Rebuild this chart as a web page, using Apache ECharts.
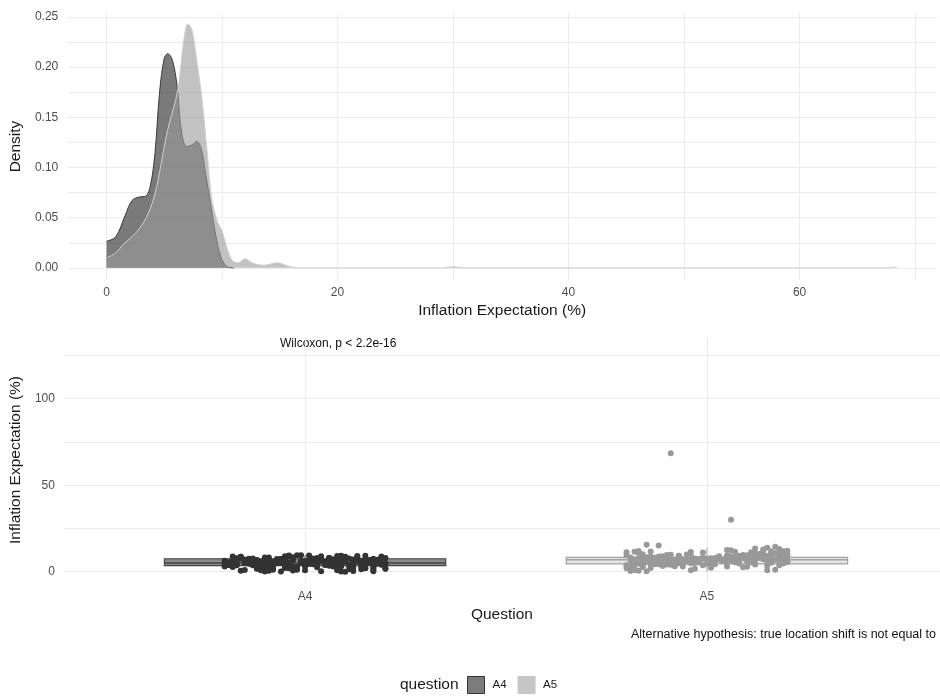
<!DOCTYPE html>
<html>
<head>
    <meta charset="utf-8" />
    <title>Inflation Expectation</title>
    <style>
        html, body { margin: 0; padding: 0; background: #fff; }
        #chart { width: 940px; height: 698px; }
    </style>
</head>
<body>
    <div id="chart"></div>
    <script src="https://cdn.jsdelivr.net/npm/echarts@6/dist/echarts.min.js"></script>
    <script type="text/javascript">
        // density curves
        var a4DensX = [0, 0.8, 1.6, 2.2, 2.8, 3.4, 3.8, 4.2, 4.6, 5.0, 5.3, 5.7, 6.1, 6.5, 6.95, 7.4, 7.8, 8.2, 8.6, 9.0, 9.4, 9.9, 10.4, 11.0];
        var a4DensY = [0.0265, 0.031, 0.052, 0.067, 0.0705, 0.0715, 0.082, 0.115, 0.176, 0.209, 0.2135, 0.207, 0.182, 0.135, 0.121, 0.1225, 0.126, 0.119, 0.092, 0.065, 0.036, 0.011, 0.0015, 0];
        var a5DensX = [0, 0.8, 1.5, 2.2, 2.9, 3.6, 4.2, 4.7, 5.1, 5.5, 6.0, 6.3, 6.7, 7.05, 7.4, 7.8, 8.3, 8.7, 9.1, 9.6, 10.0, 10.4, 10.9, 11.4, 12.0, 12.6, 13.6, 14.8, 15.8, 16.6, 29, 30, 31, 67.5, 68.5];
        var a5DensY = [0.0099, 0.015, 0.024, 0.031, 0.04, 0.054, 0.074, 0.102, 0.127, 0.147, 0.168, 0.188, 0.228, 0.243, 0.237, 0.208, 0.165, 0.117, 0.07, 0.046, 0.037, 0.021, 0.007, 0.005, 0.009, 0.005, 0.0026, 0.005, 0.0015, 0, 0, 0.0012, 0, 0, 0.0012];

        // tick labels
        var densXTicks = [0, 20, 40, 60];
        var densXGrid = [0, 10, 20, 30, 40, 50, 60, 70];
        var densYTicks = [0, 0.05, 0.10, 0.15, 0.20, 0.25];
        var densYGrid = [0, 0.025, 0.05, 0.075, 0.10, 0.125, 0.15, 0.175, 0.20, 0.225, 0.25];
        var questions = ['A4', 'A5'];
        var boxYTicks = [0, 50, 100];
        var boxYGrid = [0, 25, 50, 75, 100, 125];

        // box stats: position, lower whisker, Q1, median, Q3, upper whisker
        var boxStats = [
            [1, 0, 3.5, 5, 7.5, 9.5],
            [2, 0, 4.6, 7, 8.3, 13.8]
        ];

        // jittered points (horizontal offset, value)
        var a4Jitter = [-0.19, 0.07, -0.12, 0.15, 0.02, -0.05, 0.18, -0.16, 0.11, -0.01, 0.04, -0.09, 0.13, -0.18, 0.09, 0.0, -0.14, 0.17, -0.07, 0.06,
            0.12, -0.03, -0.2, 0.19, -0.11, 0.08, 0.03, -0.15, 0.14, -0.06, 0.2, -0.08, 0.01, -0.17, 0.1, -0.02, 0.16, -0.13, 0.05, -0.1,
            -0.04, 0.18, -0.19, 0.09, 0.13, -0.12, 0.0, 0.07, -0.16, 0.15, -0.07, 0.03, -0.14, 0.11, 0.19, -0.05, 0.06, -0.18, 0.02, -0.09,
            0.17, -0.01, -0.11, 0.12, 0.04, -0.2, 0.1, -0.06, 0.14, -0.15, 0.08, -0.03, 0.2, -0.13, 0.01, -0.08, 0.16, -0.17, 0.05, -0.1,
            0.13, -0.04, 0.09, -0.19, 0.18, -0.12, 0.03, -0.07, 0.15, -0.16, 0.07, -0.02, 0.11, -0.14, 0.0, 0.19, -0.09, 0.06, -0.18, 0.12,
            -0.05, 0.16, -0.11, 0.02, 0.1, -0.2, 0.14, -0.06, 0.04, -0.15, 0.17, -0.01, 0.08, -0.13, 0.2, -0.08, 0.05, -0.17, 0.13, -0.03,
            0.01, -0.13, 0.17, -0.06, 0.09, -0.19, 0.14, -0.02, 0.05, -0.16, 0.2, -0.09, 0.12, -0.04, 0.07, -0.18, 0.15, -0.11, 0.03, -0.07,
            0.18, -0.14, 0.1, -0.01, 0.06, -0.2, 0.13, -0.08, 0.02, -0.15, 0.19, -0.05, 0.08, -0.12, 0.16, -0.03, 0.11, -0.17, 0.04, -0.1,
            -0.18, 0.05, 0.14, -0.09, 0.19, -0.03, 0.08, -0.15, 0.01, 0.12, -0.06, 0.17, -0.12, 0.03, -0.19, 0.1, -0.04, 0.15, -0.1, 0.06,
            -0.14, 0.2, -0.07, 0.09, -0.17, 0.13, -0.02, 0.04, -0.11, 0.18, -0.05, 0.11, -0.16, 0.0, 0.16, -0.08, 0.07, -0.13, 0.14, -0.2,
            0.02, -0.1, 0.19, -0.06, 0.12, -0.15, 0.05, -0.01, 0.17, -0.18, 0.08, -0.03, 0.13, -0.12, 0.1, -0.09, 0.03, -0.16, 0.15, -0.04];
        var a4Values = [5.2, 3.1, 6.8, 4.9, 7.6, 2.2, 5.8, 8.3, 4.1, 6.2, 0.3, 5.5, 7.1, 3.7, 9.2, 6.0, 4.6, 1.2, 5.1, 7.9,
            6.6, 2.9, 5.3, 8.8, 4.4, 0.8, 6.9, 5.0, 3.3, 7.4, 1.8, 5.7, 6.3, 4.0, 8.1, 2.6, 5.9, 7.0, 3.9, 6.1,
            9.4, 4.7, 5.4, 0.1, 7.7, 6.4, 3.0, 5.6, 8.6, 2.0, 6.7, 4.3, 7.2, 1.5, 5.2, 3.6, 8.0, 6.5, 4.8, 0.6,
            7.5, 5.1, 2.4, 6.0, 9.0, 3.4, 5.8, 7.3, 4.2, 1.0, 6.2, 8.4, 5.0, 3.8, 6.9, 2.7, 5.5, 7.8, 4.5, 0.4,
            6.3, 8.9, 3.2, 5.3, 7.0, 1.7, 6.6, 4.9, 2.1, 7.6, 5.7, 9.5, 3.5, 6.1, 0.9, 4.4, 8.2, 5.9, 2.8, 7.1,
            4.0, 6.8, 1.3, 5.4, 8.7, 3.0, 6.4, 0.2, 7.4, 5.0, 2.5, 6.0, 9.1, 4.6, 7.9, 1.9, 5.6, 3.7, 8.5, 6.7,
            4.5, 6.9, 2.3, 5.6, 7.8, 3.9, 6.2, 1.1, 5.0, 8.5, 4.2, 6.6, 0.5, 5.3, 7.2, 3.1, 9.3, 5.8, 2.6, 6.4,
            4.8, 7.5, 0.0, 5.5, 8.0, 3.6, 6.1, 1.6, 5.1, 7.0, 4.0, 9.0, 2.9, 6.7, 5.2, 0.7, 7.7, 4.3, 6.0, 3.3,
            8.8, 5.7, 1.4, 6.5, 4.6, 7.3, 2.2, 5.9, 9.4, 3.8, 6.3, 0.3, 5.4, 7.9, 4.1, 6.8, 2.0, 5.0, 8.3, 3.5,
            6.0, 1.9, 7.4, 4.7, 5.6, 9.1, 2.7, 6.2, 0.9, 5.3, 7.1, 3.2, 8.7, 4.9, 6.6, 1.2, 5.8, 7.6, 3.0, 6.4,
            4.4, 0.2, 8.1, 5.1, 2.4, 6.9, 4.0, 9.5, 5.5, 3.4, 7.0, 1.7, 6.1, 4.8, 8.4, 2.8, 5.7, 0.6, 7.3, 4.2];
        var a5Jitter = [0.04, -0.17, 0.12, -0.08, 0.19, -0.02, -0.13, 0.09, -0.2, 0.15, 0.01, -0.1, 0.17, -0.05, 0.07, -0.15, 0.11, -0.19, 0.03, 0.14,
            -0.07, 0.2, -0.12, 0.06, -0.01, 0.16, -0.18, 0.1, -0.04, 0.13, -0.14, 0.0, 0.18, -0.09, 0.05, -0.16, 0.08, -0.11, 0.19, -0.03,
            0.12, -0.2, 0.02, 0.15, -0.06, 0.09, -0.13, 0.17, -0.08, 0.04, -0.17, 0.11, -0.01, 0.2, -0.1, 0.07, -0.15, 0.14, -0.04, 0.01,
            -0.19, 0.16, -0.07, 0.1, -0.12, 0.03, 0.18, -0.02, 0.13, -0.16, 0.06, -0.09, 0.19, -0.14, 0.08, -0.05, 0.15, -0.18, 0.0, 0.12,
            -0.11, 0.05, -0.2, 0.17, -0.03, 0.09, -0.13, 0.02, 0.14, -0.07, 0.2, -0.15, 0.07, -0.1, 0.11, -0.01, 0.16, -0.17, 0.04, -0.06,
            0.13, -0.19, 0.1, -0.08, 0.18, -0.12, 0.03, -0.04, 0.15, -0.16, 0.06, -0.14, 0.19, -0.02, 0.08, -0.11, 0.12, -0.18, -0.09, 0.06,
            -0.16, 0.09, -0.03, 0.18, -0.11, 0.05, -0.19, 0.14, 0.0, -0.07, 0.12, -0.14, 0.2, -0.05, 0.07, -0.17, 0.16, -0.1, 0.03, -0.02,
            0.11, -0.2, 0.15, -0.08, 0.06, -0.13, 0.19, -0.04, 0.1, -0.16, 0.01, -0.11, 0.17, -0.06, 0.13, -0.18, 0.08, -0.01, 0.04, -0.15,
            0.2, -0.09, 0.12, -0.03, -0.19, 0.06, 0.16, -0.12, 0.02, 0.1, -0.07, 0.18, -0.14, 0.05, -0.17, 0.14, -0.05, 0.09, -0.1, 0.19,
            -0.02, 0.07, -0.18, 0.13, -0.08, 0.03, 0.17, -0.13, 0.11, -0.04, 0.0, -0.2, 0.15, -0.09, 0.06, -0.15, 0.12, -0.06, 0.19, -0.12,
            0.04, -0.17, 0.1, -0.01, 0.16, -0.1, 0.08, -0.19, 0.14, -0.03, 0.02, -0.14, 0.18, -0.07, 0.11, -0.16, 0.05, -0.11, 0.2, -0.05];
        var a5Values = [7.1, 5.4, 8.6, 3.2, 9.8, 6.5, 4.7, 7.9, 11.2, 6.1, 2.3, 8.2, 10.4, 5.8, 7.4, 15.6, 6.9, 4.1, 9.0, 7.6,
            5.2, 12.1, 8.8, 6.3, 3.8, 7.0, 1.4, 9.5, 6.7, 8.1, 4.5, 7.3, 11.0, 5.9, 12.6, 3.1, 8.4, 6.0, 10.2, 7.7,
            9.1, 2.0, 6.6, 13.8, 5.1, 8.0, 7.2, 10.8, 4.3, 6.8, 0.6, 9.3, 7.5, 8.7, 5.6, 11.5, 6.2, 12.3, 4.9, 7.8,
            3.5, 9.6, 8.3, 6.4, 15.2, 7.0, 10.0, 5.3, 8.9, 2.8, 6.9, 4.0, 11.8, 7.4, 9.2, 6.1, 8.5, 1.0, 7.6, 10.6,
            5.5, 8.1, 3.7, 14.4, 6.8, 9.7, 4.4, 7.2, 12.9, 5.0, 8.6, 0.3, 7.9, 6.3, 11.3, 8.2, 9.9, 4.8, 7.1, 6.0,
            10.3, 2.5, 8.8, 5.7, 13.1, 6.5, 7.7, 9.4, 0.9, 3.9, 8.0, 6.6, 10.9, 7.3, 5.2, 9.0, 4.2, 11.6, 68.5, 30.0,
            6.4, 8.9, 5.1, 7.6, 3.3, 9.4, 6.8, 10.7, 4.6, 7.2, 8.3, 2.1, 6.0, 9.9, 5.5, 7.8, 11.9, 4.2, 8.6, 6.6,
            7.3, 3.6, 9.1, 5.8, 12.4, 6.2, 8.0, 0.8, 7.5, 10.1, 5.0, 8.7, 6.9, 3.0, 9.6, 7.1, 4.8, 11.1, 6.3, 8.4,
            5.7, 9.8, 7.0, 1.8, 8.2, 6.5, 10.5, 4.4, 7.9, 6.1, 9.2, 3.8, 8.8, 5.3, 12.0, 7.4, 6.7, 2.6, 9.0, 7.7,
            5.9, 8.5, 4.0, 10.3, 6.9, 7.5, 1.2, 8.1, 5.4, 11.4, 7.0, 9.5, 3.4, 6.4, 8.9, 5.6, 13.4, 7.2, 4.7, 8.3,
            6.0, 10.9, 2.9, 7.8, 5.2, 9.7, 6.6, 0.4, 8.6, 7.4, 4.3, 11.7, 6.2, 9.3, 5.8, 8.0, 3.1, 7.6, 10.2, 6.8];

        var font = 'Liberation Sans, Arial, sans-serif';
        var tickColor = '#4d4d4d';
        var gridColor = '#ebebeb';
        var boxFill = ['#8a8a8a', '#e4e4e4'];
        var boxLine = ['#444444', '#a3a3a3'];

        function pairs(xs, ys) {
            var out = [];
            for (var i = 0; i < xs.length; i++) {
                out.push([xs[i], ys[i]]);
            }
            return out;
        }
        function jittered(pos, jit, vals) {
            var out = [];
            for (var i = 0; i < vals.length; i++) {
                out.push([pos + jit[i], vals[i]]);
            }
            return out;
        }

        var myChart = echarts.init(document.getElementById('chart'), null, { renderer: 'canvas' });

        var option = {
            backgroundColor: '#ffffff',
            animation: false,
            textStyle: { fontFamily: font },
            grid: [
                { left: 65.6, right: 3, top: 13, bottom: 418 },
                { left: 60, right: 0, top: 337, bottom: 115 }
            ],
            legend: {
                left: 467,
                top: 676,
                padding: 0,
                itemWidth: 17,
                itemHeight: 17,
                itemGap: 11,
                icon: 'rect',
                textStyle: { fontSize: 11.5, color: '#1a1a1a', fontFamily: font, padding: [0, 0, 0, 3] },
                data: [
                    { name: 'A4', itemStyle: { color: '#7b7b7b', borderColor: '#333333', borderWidth: 1 } },
                    { name: 'A5', itemStyle: { color: '#c6c6c6', borderColor: '#c6c6c6', borderWidth: 1 } }
                ]
            },
            graphic: [
                {
                    type: 'text', left: 400, top: 677,
                    style: { text: 'question', font: '15.5px ' + font, fill: '#1a1a1a' }
                },
                {
                    type: 'text', left: 280, top: 338,
                    style: { text: 'Wilcoxon, p < 2.2e-16', font: '12px ' + font, fill: '#111' }
                },
                {
                    type: 'text', right: 4, top: 628,
                    style: { text: 'Alternative hypothesis: true location shift is not equal to', font: '12.5px ' + font, fill: '#111' }
                }
            ],
            xAxis: [
                {
                    gridIndex: 0, type: 'value', min: -3.4, max: 71.9,
                    name: 'Inflation Expectation (%)', nameLocation: 'middle', nameGap: 23,
                    nameTextStyle: { fontSize: 15.5, color: '#1a1a1a' },
                    axisLine: { show: false },
                    axisTick: { show: false, customValues: densXGrid },
                    axisLabel: { customValues: densXTicks, color: tickColor, fontSize: 12, margin: 7 },
                    splitLine: { show: true, lineStyle: { color: gridColor, width: 1 } }
                },
                {
                    gridIndex: 1, type: 'value', min: 0.4, max: 2.58,
                    name: 'Question', nameLocation: 'middle', nameGap: 24,
                    nameTextStyle: { fontSize: 15.5, color: '#1a1a1a' },
                    axisLine: { show: false },
                    axisTick: { show: false, customValues: [1, 2] },
                    axisLabel: {
                        customValues: [1, 2], color: tickColor, fontSize: 12, margin: 8,
                        formatter: function (v) { return questions[Math.round(v) - 1]; }
                    },
                    splitLine: { show: true, lineStyle: { color: gridColor, width: 1 } }
                }
            ],
            yAxis: [
                {
                    gridIndex: 0, type: 'value', min: -0.0121, max: 0.254,
                    name: 'Density', nameLocation: 'middle', nameGap: 40, nameRotate: 90,
                    nameTextStyle: { fontSize: 15.5, color: '#1a1a1a' },
                    axisLine: { show: false },
                    axisTick: { show: false, customValues: densYGrid },
                    axisLabel: {
                        customValues: densYTicks, color: tickColor, fontSize: 12, margin: 9,
                        formatter: function (v) { return v.toFixed(2); }
                    },
                    splitLine: { show: true, lineStyle: { color: gridColor, width: 1 } }
                },
                {
                    gridIndex: 1, type: 'value', min: -6.5, max: 135.6,
                    name: 'Inflation Expectation (%)', nameLocation: 'middle', nameGap: 35, nameRotate: 90,
                    nameTextStyle: { fontSize: 15.5, color: '#1a1a1a' },
                    axisLine: { show: false },
                    axisTick: { show: false, customValues: boxYGrid },
                    axisLabel: { customValues: boxYTicks, color: tickColor, fontSize: 12, margin: 9 },
                    splitLine: { show: true, lineStyle: { color: gridColor, width: 1 } }
                }
            ],
            series: [
                {
                    name: 'A4', type: 'line', xAxisIndex: 0, yAxisIndex: 0,
                    data: pairs(a4DensX, a4DensY),
                    smooth: 0.35, symbol: 'none',
                    lineStyle: { color: '#3a3a3a', width: 1 },
                    itemStyle: { color: '#7b7b7b' },
                    areaStyle: { color: '#333333', opacity: 0.65 },
                    z: 2
                },
                {
                    name: 'A5', type: 'line', xAxisIndex: 0, yAxisIndex: 0,
                    data: pairs(a5DensX, a5DensY),
                    smooth: 0.35, symbol: 'none',
                    lineStyle: { color: '#d0d0d0', width: 1 },
                    itemStyle: { color: '#c6c6c6' },
                    areaStyle: { color: '#9c9c9c', opacity: 0.61 },
                    z: 3
                },
                {
                    type: 'custom', xAxisIndex: 1, yAxisIndex: 1,
                    data: boxStats,
                    encode: { x: 0, y: [1, 2, 3, 4, 5] },
                    renderItem: function (params, api) {
                        var i = params.dataIndex;
                        var x = api.value(0), lo = api.value(1), q1 = api.value(2),
                            med = api.value(3), q3 = api.value(4), hi = api.value(5);
                        var half = 0.35;
                        var tl = api.coord([x - half, q3]);
                        var br = api.coord([x + half, q1]);
                        var ml = api.coord([x - half, med]);
                        var mr = api.coord([x + half, med]);
                        var c3 = api.coord([x, q3]), cHi = api.coord([x, hi]);
                        var c1 = api.coord([x, q1]), cLo = api.coord([x, lo]);
                        var ls = { stroke: boxLine[i], lineWidth: 1 };
                        return {
                            type: 'group',
                            children: [
                                { type: 'line', shape: { x1: c3[0], y1: c3[1], x2: cHi[0], y2: cHi[1] }, style: ls },
                                { type: 'line', shape: { x1: c1[0], y1: c1[1], x2: cLo[0], y2: cLo[1] }, style: ls },
                                {
                                    type: 'rect',
                                    shape: { x: tl[0], y: tl[1], width: br[0] - tl[0], height: br[1] - tl[1] },
                                    style: { fill: boxFill[i], stroke: boxLine[i], lineWidth: 1.2 }
                                },
                                { type: 'line', shape: { x1: ml[0], y1: ml[1], x2: mr[0], y2: mr[1] }, style: { stroke: boxLine[i], lineWidth: 1.5 } }
                            ]
                        };
                    },
                    z: 2
                },
                {
                    type: 'scatter', xAxisIndex: 1, yAxisIndex: 1,
                    data: jittered(1, a4Jitter, a4Values),
                    symbolSize: 6,
                    itemStyle: { color: '#333333', opacity: 1 },
                    z: 3
                },
                {
                    type: 'scatter', xAxisIndex: 1, yAxisIndex: 1,
                    data: jittered(2, a5Jitter, a5Values),
                    symbolSize: 6,
                    itemStyle: { color: '#999999', opacity: 1 },
                    z: 3
                }
            ]
        };

        myChart.setOption(option);
    </script>
</body>
</html>
